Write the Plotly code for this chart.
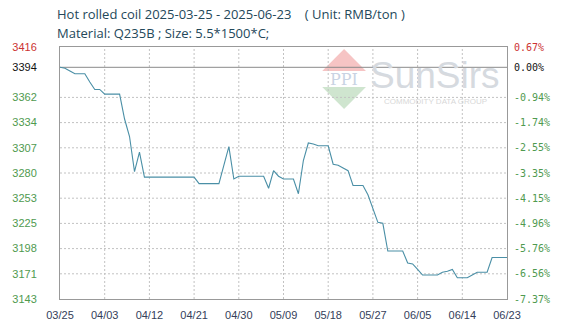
import pandas as pd
import plotly.graph_objects as go

start_date = "2025-03-25"
end_date = "2025-06-23"
prices = [3394, 3393, 3390, 3387, 3387, 3387, 3378, 3370, 3370, 3365,
          3365, 3365, 3365, 3338, 3319, 3281, 3302, 3275, 3275, 3275,
          3275, 3275, 3275, 3275, 3275, 3275, 3275, 3275, 3268, 3268,
          3268, 3268, 3268, 3288, 3308, 3273, 3276, 3276, 3276, 3276,
          3276, 3276, 3263, 3282, 3276, 3273, 3273, 3273, 3257, 3293,
          3312, 3311, 3309, 3309, 3309, 3289, 3288, 3285, 3282, 3266,
          3266, 3266, 3256, 3241, 3226, 3225, 3195, 3195, 3195, 3195,
          3182, 3181, 3175, 3169, 3169, 3169, 3169, 3172, 3173, 3175,
          3166, 3166, 3166, 3169, 3172, 3172, 3172, 3188, 3188, 3188, 3188]
base_price = 3394
y_min, y_max = 3143, 3416
left_labels = ["3416", "3394", "3362", "3334", "3307", "3280", "3253", "3225", "3198", "3171", "3143"]
right_labels = ["0.67%", "0.00%", "-0.94%", "-1.74%", "-2.55%", "-3.35%", "-4.15%", "-4.96%", "-5.76%", "-6.56%", "-7.37%"]
x_tick_labels = ["03/25", "04/03", "04/12", "04/21", "04/30", "05/09", "05/18", "05/27", "06/05", "06/14", "06/23"]

dates = pd.date_range(start_date, end_date, freq="D")
x_tick_dates = pd.date_range(start_date, end_date, freq="9D")

step = (y_max - y_min) / 10
grid_vals = [y_max - k * step for k in range(11)]
tick_vals = [grid_vals[0], base_price] + grid_vals[2:]

RED = "#cc3333"
GREEN = "#4f9a4f"
BLACK = "#111111"
GRID = "#c2c2c2"


def colored(labels):
    out = []
    for i, t in enumerate(labels):
        c = RED if i == 0 else (BLACK if i == 1 else GREEN)
        out.append(f'<span style="color:{c}">{t}</span>')
    return out


fig = go.Figure()

# dotted grid drawn as line traces
for k, v in enumerate(grid_vals):
    if k in (0, 1, 10):
        continue
    fig.add_trace(go.Scatter(x=[dates[0], dates[-1]], y=[v, v], mode="lines",
                             line=dict(color=GRID, width=1, dash="2px,2px"),
                             hoverinfo="skip", showlegend=False))
for d in list(x_tick_dates)[1:-1]:
    fig.add_trace(go.Scatter(x=[d, d], y=[y_min, y_max], mode="lines",
                             line=dict(color=GRID, width=1, dash="2px,2px"),
                             hoverinfo="skip", showlegend=False))
# reference line at base price
fig.add_trace(go.Scatter(x=[dates[0], dates[-1]], y=[base_price, base_price], mode="lines",
                         line=dict(color="#8a8a8a", width=1),
                         hoverinfo="skip", showlegend=False))

fig.add_trace(go.Scatter(x=dates, y=prices, mode="lines",
                         line=dict(color="#4a8fa6", width=1.1),
                         hoverinfo="skip", showlegend=False))
fig.add_trace(go.Scatter(x=[dates[0]], y=[base_price], yaxis="y2", mode="markers",
                         marker=dict(opacity=0), showlegend=False, hoverinfo="skip"))
fig.add_trace(go.Scatter(x=[dates[0]], y=[base_price], yaxis="y3", mode="markers",
                         marker=dict(opacity=0), showlegend=False, hoverinfo="skip"))

fig.update_layout(
    width=569, height=334,
    margin=dict(l=57, r=62, t=47, b=35),
    paper_bgcolor="white", plot_bgcolor="white",
    font=dict(family="Liberation Sans, Arial, sans-serif", size=11),
    xaxis=dict(
        range=[dates[0], dates[-1]],
        tickvals=list(x_tick_dates), ticktext=x_tick_labels,
        tickfont=dict(color="#34405a", size=11),
        showgrid=False,
        showline=True, linecolor="#999999", linewidth=1, mirror=True,
        ticks="outside", ticklen=6, tickcolor="rgba(0,0,0,0)",
        zeroline=False,
    ),
    yaxis=dict(
        range=[y_min, y_max],
        showticklabels=False, showgrid=False,
        showline=True, linecolor="#999999", linewidth=1, mirror=True,
        ticks="", zeroline=False,
    ),
    yaxis2=dict(
        range=[y_min, y_max], overlaying="y", side="right",
        tickvals=tick_vals, ticktext=colored(right_labels),
        tickfont=dict(size=10, family="DejaVu Sans Mono, monospace"),
        showgrid=False, showline=False, zeroline=False,
        ticks="outside", ticklen=4, tickcolor="rgba(0,0,0,0)",
    ),
    yaxis3=dict(
        range=[y_min, y_max], overlaying="y", side="left",
        tickvals=tick_vals, ticktext=colored(left_labels),
        tickfont=dict(size=11, family="Liberation Sans, Arial, sans-serif"),
        showgrid=False, showline=False, zeroline=False,
        ticks="outside", ticklen=20, tickcolor="rgba(0,0,0,0)",
    ),
)


def px(xp):
    return (xp - 57) / 450


def py(yp):
    return (299 - yp) / 252


# watermark logo (decorative)
fig.add_shape(type="path", xref="paper", yref="paper", layer="below",
              path=f"M {px(343)} {py(49)} L {px(321)} {py(71)} L {px(365)} {py(71)} Z",
              fillcolor="#f6c4c4", line=dict(width=0))
fig.add_shape(type="path", xref="paper", yref="paper", layer="below",
              path=f"M {px(321)} {py(87)} L {px(365)} {py(87)} L {px(343)} {py(109)} Z",
              fillcolor="#cfe5cf", line=dict(width=0))
fig.add_annotation(x=px(343), y=py(79), xref="paper", yref="paper", text="PPI",
                   xanchor="center", yanchor="middle",
                   showarrow=False, font=dict(size=16, color="#c9d3e3", family="DejaVu Serif"))
fig.add_annotation(x=px(435), y=py(75), xref="paper", yref="paper", text="SunSirs",
                   xanchor="center", yanchor="middle",
                   showarrow=False, font=dict(size=37, color="#d6dadf", family="Liberation Sans"))
fig.add_annotation(x=px(435), y=py(101), xref="paper", yref="paper", text="COMMODITY DATA GROUP",
                   xanchor="center", yanchor="middle",
                   showarrow=False, font=dict(size=8, color="#d8d8d8", family="Liberation Sans"))

# titles
fig.add_annotation(x=px(52), y=py(14), xref="paper", yref="paper", xanchor="left", yanchor="middle",
                   text="Hot rolled coil 2025-03-25 - 2025-06-23    ( Unit: RMB/ton )",
                   showarrow=False, font=dict(size=13, color="#24485a", family="Open Sans"))
fig.add_annotation(x=px(52), y=py(33), xref="paper", yref="paper", xanchor="left", yanchor="middle",
                   text="Material: Q235B ; Size: 5.5*1500*C;",
                   showarrow=False, font=dict(size=13, color="#24485a", family="Open Sans"))

fig.write_html("out.html")
